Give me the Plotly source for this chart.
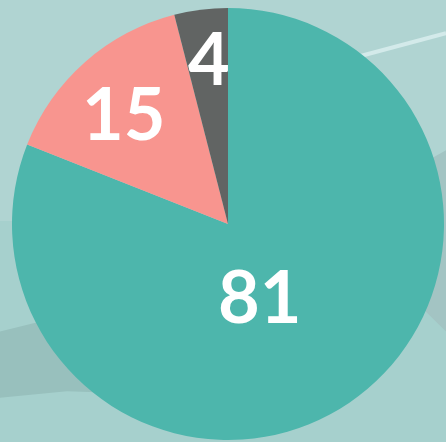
import math
import plotly.graph_objects as go

# Data
categories = ["A", "B", "C"]
values = [81, 15, 4]
colors = ["#4DB6AC", "#F8958F", "#616463"]

# label placement style (radial fraction, angle tweak in degrees)
label_r = [0.36, 0.71, 0.78]
label_dang = [10.0, -1.5, 0.7]

W, H = 446, 442
cx, cy, R = 228, 224, 216

fig = go.Figure()
fig.add_trace(go.Pie(
    labels=categories,
    values=values,
    sort=False,
    direction="clockwise",
    rotation=0,
    marker=dict(colors=colors, line=dict(width=0)),
    textinfo="none",
    hoverinfo="label+value",
    showlegend=False,
    domain=dict(x=[(cx - R) / W, (cx + R) / W],
                y=[(H - cy - R) / H, (H - cy + R) / H]),
))

# Labels positioned from cumulative angles of the data
total = sum(values)
cum = 0
annotations = []
for v, rf, da in zip(values, label_r, label_dang):
    mid = (cum + v / 2) / total * 360 + da
    cum += v
    a = math.radians(mid)
    px = cx + rf * R * math.sin(a)
    py = cy - rf * R * math.cos(a)
    annotations.append(dict(
        x=px / W, y=1 - py / H, xref="paper", yref="paper",
        text=f"<b>{v}</b>", showarrow=False,
        font=dict(family="Lato", size=72, color="white"),
        xanchor="center", yanchor="middle",
    ))

# background texture approximations
shapes = [
    dict(type="rect", xref="paper", yref="paper", x0=0, x1=1, y0=0, y1=0.5,
         fillcolor="#a6d0cd", line=dict(width=0), layer="below"),
    dict(type="path", xref="paper", yref="paper",
         path="M 0 0.25 L 0.10 0.275 L 0.25 0.285 L 0.45 0.27 L 0.45 0.12 "
              "L 0.30 0.11 L 0.15 0.115 L 0 0.10 Z",
         fillcolor="#98c0bd", line=dict(width=0), layer="below"),
    dict(type="path", xref="paper", yref="paper",
         path="M 1.0 0.25 L 1.0 0.66 L 0.965 0.64 L 0.95 0.30 Z",
         fillcolor="#a3c4c3", line=dict(width=0), layer="below"),
    dict(type="line", xref="paper", yref="paper",
         x0=0.80, y0=0.871, x1=1.0, y1=0.925,
         line=dict(color="#d3eaea", width=4), layer="below"),
]

fig.update_layout(
    width=W, height=H,
    margin=dict(l=0, r=0, t=0, b=0),
    paper_bgcolor="#b0d4d2",
    plot_bgcolor="#b0d4d2",
    annotations=annotations,
    shapes=shapes,
)

fig.write_html("out.html")
